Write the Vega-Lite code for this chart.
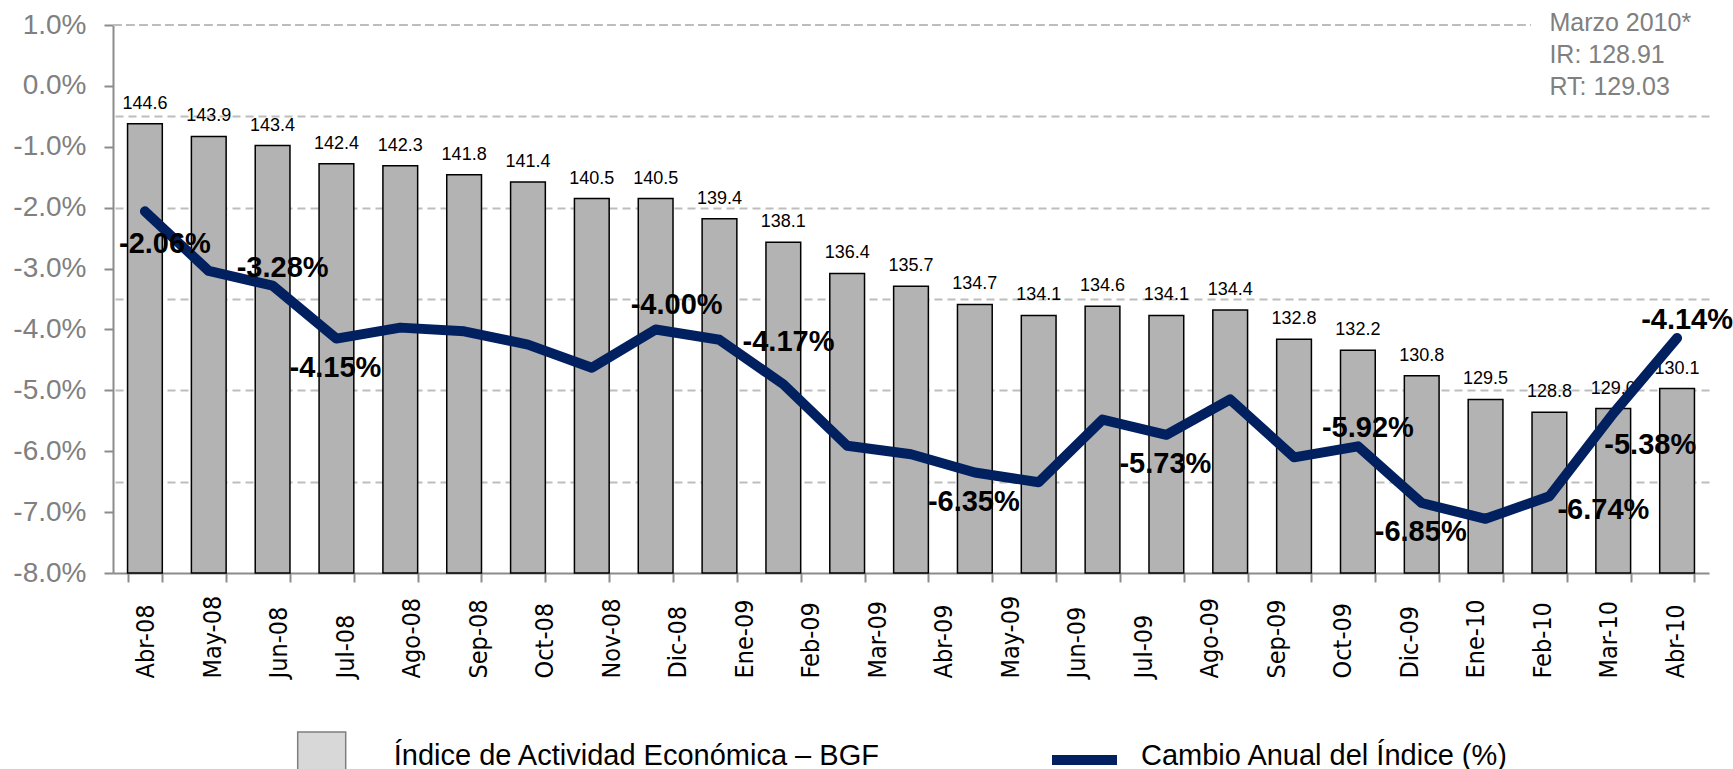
{
  "$schema": "https://vega.github.io/schema/vega-lite/v6.json",
  "width": 1596,
  "height": 548,
  "autosize": {"type": "none"},
  "padding": {"left": 113, "top": 25, "right": 24, "bottom": 196},
  "background": "white",
  "config": {
    "view": {"stroke": null},
    "font": "Liberation Sans",
    "locale": {"number": {"decimal": ".", "thousands": ",", "grouping": [3], "currency": ["$", ""], "minus": "-"}}
  },
  "datasets": {
    "serie": [
      {"mes": "Abr-08", "indice": 144.6, "cambio": -0.0206},
      {"mes": "May-08", "indice": 143.9, "cambio": -0.0304},
      {"mes": "Jun-08", "indice": 143.4, "cambio": -0.0328},
      {"mes": "Jul-08", "indice": 142.4, "cambio": -0.0415},
      {"mes": "Ago-08", "indice": 142.3, "cambio": -0.0397},
      {"mes": "Sep-08", "indice": 141.8, "cambio": -0.0403},
      {"mes": "Oct-08", "indice": 141.4, "cambio": -0.0425},
      {"mes": "Nov-08", "indice": 140.5, "cambio": -0.0463},
      {"mes": "Dic-08", "indice": 140.5, "cambio": -0.0400},
      {"mes": "Ene-09", "indice": 139.4, "cambio": -0.0417},
      {"mes": "Feb-09", "indice": 138.1, "cambio": -0.0490},
      {"mes": "Mar-09", "indice": 136.4, "cambio": -0.0591},
      {"mes": "Abr-09", "indice": 135.7, "cambio": -0.0605},
      {"mes": "May-09", "indice": 134.7, "cambio": -0.0635},
      {"mes": "Jun-09", "indice": 134.1, "cambio": -0.0651},
      {"mes": "Jul-09", "indice": 134.6, "cambio": -0.0548},
      {"mes": "Ago-09", "indice": 134.1, "cambio": -0.0573},
      {"mes": "Sep-09", "indice": 134.4, "cambio": -0.0515},
      {"mes": "Oct-09", "indice": 132.8, "cambio": -0.0610},
      {"mes": "Nov-09", "indice": 132.2, "cambio": -0.0592},
      {"mes": "Dic-09", "indice": 130.8, "cambio": -0.0685},
      {"mes": "Ene-10", "indice": 129.5, "cambio": -0.0711},
      {"mes": "Feb-10", "indice": 128.8, "cambio": -0.0674},
      {"mes": "Mar-10", "indice": 129.0, "cambio": -0.0538},
      {"mes": "Abr-10", "indice": 130.1, "cambio": -0.0414}
    ],
    "etiquetas": [
      {"mes": "Abr-08"}, {"mes": "May-08"}, {"mes": "Jun-08"}, {"mes": "Jul-08"},
      {"mes": "Ago-08"}, {"mes": "Sep-08"}, {"mes": "Oct-08"}, {"mes": "Nov-08"},
      {"mes": "Dic-08"}, {"mes": "Ene-09"}, {"mes": "Feb-09"}, {"mes": "Mar-09"},
      {"mes": "Abr-09"}, {"mes": "May-09"}, {"mes": "Jun-09"}, {"mes": "Jul-09"},
      {"mes": "Ago-09"}, {"mes": "Sep-09"}, {"mes": "Oct-09"}, {"mes": "Dic-09"},
      {"mes": "Ene-10"}, {"mes": "Feb-10"}, {"mes": "Mar-10"}, {"mes": "Abr-10"}
    ]
  },
  "resolve": {
    "scale": {"x": "independent", "y": "independent"},
    "axis": {"x": "independent", "y": "independent"}
  },
  "layer": [
    {
      "data": {"name": "serie"},
      "encoding": {
        "x": {
          "field": "mes", "type": "nominal", "sort": null,
          "scale": {"type": "band", "paddingInner": 0.4557, "paddingOuter": 0.2279,
            "domain": ["Abr-08","May-08","Jun-08","Jul-08","Ago-08","Sep-08","Oct-08","Nov-08","Dic-08","Ene-09","Feb-09","Mar-09","Abr-09","May-09","Jun-09","Jul-09","Ago-09","Sep-09","Oct-09","Nov-09","Dic-09","Ene-10","Feb-10","Mar-10","Abr-10"]},
          "axis": {"orient": "bottom", "labels": false, "ticks": true, "tickBand": "extent", "tickSize": 9, "tickColor": "#8c8c8c", "tickWidth": 2, "domainColor": "#8c8c8c", "domainWidth": 2, "grid": false, "title": null}
        },
        "y": {
          "field": "indice", "type": "quantitative",
          "scale": {"domain": [120, 150], "zero": false, "nice": false},
          "axis": {"orient": "right", "domain": false, "ticks": false, "labels": false, "grid": true, "values": [125, 130, 135, 140, 145], "gridDash": [8, 5], "gridColor": "#bdbdbd", "gridWidth": 2, "title": null}
        }
      },
      "layer": [
        {
          "mark": {"type": "bar", "stroke": "#000000", "strokeWidth": 1.5},
          "encoding": {
            "y2": {"datum": 120},
            "fill": {
              "datum": "Índice de Actividad Económica – BGF", "type": "nominal",
              "scale": {"range": ["#b3b3b3"]},
              "legend": {"orient": "none", "legendX": 183.7, "legendY": 706, "title": null, "padding": 0, "symbolType": "square", "symbolSize": 2304, "symbolOpacity": 0.5, "labelFontSize": 29, "labelFont": "Liberation Sans", "labelColor": "#000000", "labelOffset": 47, "labelLimit": 1000}
            }
          }
        },
        {
          "mark": {"type": "text", "baseline": "alphabetic", "align": "center", "dy": -15, "fontSize": 18, "color": "#000000"},
          "encoding": {"text": {"field": "indice", "type": "quantitative", "format": ".1f"}}
        }
      ]
    },
    {
      "data": {"name": "serie"},
      "encoding": {
        "x": {
          "field": "mes", "type": "nominal", "sort": null,
          "scale": {"type": "band", "paddingInner": 0.4557, "paddingOuter": 0.2279,
            "domain": ["Abr-08","May-08","Jun-08","Jul-08","Ago-08","Sep-08","Oct-08","Nov-08","Dic-08","Ene-09","Feb-09","Mar-09","Abr-09","May-09","Jun-09","Jul-09","Ago-09","Sep-09","Oct-09","Nov-09","Dic-09","Ene-10","Feb-10","Mar-10","Abr-10"]},
          "axis": null
        },
        "y": {
          "field": "cambio", "type": "quantitative",
          "scale": {"domain": [-0.08, 0.01], "zero": false, "nice": false},
          "axis": {"orient": "left", "values": [-0.08, -0.07, -0.06, -0.05, -0.04, -0.03, -0.02, -0.01, 0, 0.01], "format": ".1%", "labelFontSize": 28, "labelFont": "Liberation Sans", "labelColor": "#808080", "tickColor": "#8c8c8c", "tickSize": 9, "tickWidth": 2, "domainColor": "#8c8c8c", "domainWidth": 2, "labelPadding": 18, "grid": false, "title": null}
        }
      },
      "layer": [
        {
          "mark": {"type": "rule", "stroke": "#bdbdbd", "strokeWidth": 2, "strokeDash": [8, 5]},
          "encoding": {
            "x": {"datum": "Abr-08", "bandPosition": -0.417},
            "x2": {"datum": "Feb-10", "bandPosition": -0.05},
            "y": {"datum": 0.01}
          }
        },
        {
          "mark": {"type": "line", "strokeWidth": 10, "strokeCap": "round", "strokeJoin": "round"},
          "encoding": {
            "stroke": {
              "datum": "Cambio Anual del Índice (%)", "type": "nominal",
              "scale": {"range": ["#002060"]},
              "legend": {"orient": "none", "legendX": 934, "legendY": 697.5, "title": null, "padding": 0, "symbolType": "stroke", "symbolSize": 4225, "symbolStrokeWidth": 10, "labelFontSize": 29, "labelFont": "Liberation Sans", "labelColor": "#000000", "labelOffset": 19, "labelLimit": 1000,
                "encode": {"labels": {"update": {"dy": {"value": -4}}}}}
            }
          }
        },
        {
          "transform": [{"filter": {"field": "mes", "oneOf": ["Jul-08", "May-09", "Ago-09", "Dic-09"]}}],
          "mark": {"type": "text", "fontSize": 29, "fontWeight": "bold", "color": "#000000", "align": "center", "baseline": "middle", "dx": -1, "dy": 29},
          "encoding": {"text": {"field": "cambio", "type": "quantitative", "format": ".2%"}}
        },
        {
          "transform": [{"filter": {"field": "mes", "oneOf": ["Abr-08"]}}],
          "mark": {"type": "text", "fontSize": 29, "fontWeight": "bold", "color": "#000000", "align": "center", "baseline": "middle", "dx": 20, "dy": 33},
          "encoding": {"text": {"field": "cambio", "type": "quantitative", "format": ".2%"}}
        },
        {
          "transform": [{"filter": {"field": "mes", "oneOf": ["Jun-08", "Nov-09", "Abr-10"]}}],
          "mark": {"type": "text", "fontSize": 29, "fontWeight": "bold", "color": "#000000", "align": "center", "baseline": "middle", "dx": 10, "dy": -18},
          "encoding": {"text": {"field": "cambio", "type": "quantitative", "format": ".2%"}}
        },
        {
          "transform": [{"filter": {"field": "mes", "oneOf": ["Dic-08"]}}],
          "mark": {"type": "text", "fontSize": 29, "fontWeight": "bold", "color": "#000000", "align": "center", "baseline": "middle", "dx": 21, "dy": -24},
          "encoding": {"text": {"field": "cambio", "type": "quantitative", "format": ".2%"}}
        },
        {
          "transform": [{"filter": {"field": "mes", "oneOf": ["Ene-09"]}}],
          "mark": {"type": "text", "fontSize": 29, "fontWeight": "bold", "color": "#000000", "align": "center", "baseline": "middle", "dx": 69, "dy": 2},
          "encoding": {"text": {"field": "cambio", "type": "quantitative", "format": ".2%"}}
        },
        {
          "transform": [{"filter": {"field": "mes", "oneOf": ["Feb-10"]}}],
          "mark": {"type": "text", "fontSize": 29, "fontWeight": "bold", "color": "#000000", "align": "center", "baseline": "middle", "dx": 54, "dy": 14},
          "encoding": {"text": {"field": "cambio", "type": "quantitative", "format": ".2%"}}
        },
        {
          "transform": [{"filter": {"field": "mes", "oneOf": ["Mar-10"]}}],
          "mark": {"type": "text", "fontSize": 29, "fontWeight": "bold", "color": "#000000", "align": "center", "baseline": "middle", "dx": 37, "dy": 32},
          "encoding": {"text": {"field": "cambio", "type": "quantitative", "format": ".2%"}}
        },
        {
          "transform": [{"filter": {"field": "mes", "equal": "Feb-10"}}],
          "mark": {"type": "text", "align": "left", "baseline": "alphabetic", "dy": 5.7, "fontSize": 25, "color": "#808080"},
          "encoding": {
            "y": {"datum": 0.01},
            "text": {"value": "Marzo 2010*"}
          }
        },
        {
          "transform": [{"filter": {"field": "mes", "equal": "Feb-10"}}],
          "mark": {"type": "text", "align": "left", "baseline": "alphabetic", "dy": 38, "fontSize": 25, "color": "#808080"},
          "encoding": {
            "y": {"datum": 0.01},
            "text": {"value": "IR: 128.91"}
          }
        },
        {
          "transform": [{"filter": {"field": "mes", "equal": "Feb-10"}}],
          "mark": {"type": "text", "align": "left", "baseline": "alphabetic", "dy": 70.3, "fontSize": 25, "color": "#808080"},
          "encoding": {
            "y": {"datum": 0.01},
            "text": {"value": "RT: 129.03"}
          }
        }
      ]
    },
    {
      "data": {"name": "etiquetas"},
      "mark": {"type": "point", "opacity": 0},
      "encoding": {
        "x": {
          "field": "mes", "type": "nominal", "sort": null,
          "scale": {"type": "band", "paddingInner": 0, "paddingOuter": 0},
          "axis": {"orient": "bottom", "domain": false, "ticks": false, "grid": false, "labelAngle": -90, "labelAlign": "left", "labelBaseline": "middle", "labelPadding": 105, "labelFontSize": 25, "labelFont": "DejaVu Sans Condensed, DejaVu Sans", "labelColor": "#000000", "labelOverlap": false, "labelBound": false, "labelFlush": false, "title": null}
        }
      }
    }
  ]
}
